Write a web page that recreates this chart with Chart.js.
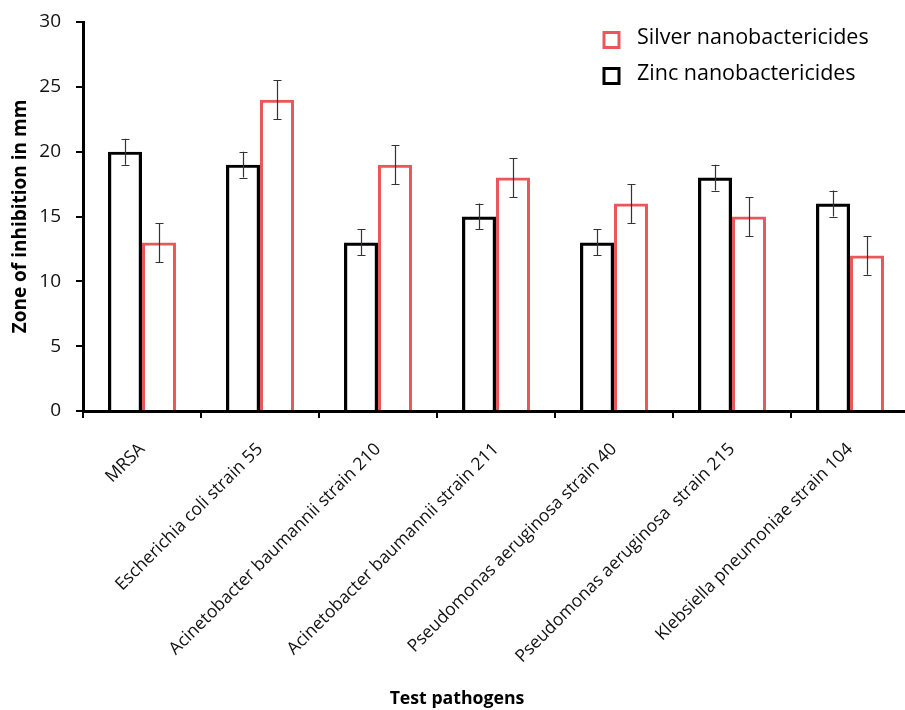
<!DOCTYPE html>
<html>
<head>
<meta charset="utf-8">
<script src="https://cdn.jsdelivr.net/npm/chart.js@4/dist/chart.umd.min.js"></script>
<style>
  html, body { margin: 0; padding: 0; background: #fff; overflow: hidden; }
  #wrap { width: 910px; height: 710px; }
</style>
</head>
<body>
<div id="wrap"><canvas id="c" width="910" height="710"></canvas></div>
<script>
// Test pathogens on the x axis
const pathogens = [
  'MRSA',
  'Escherichia coli strain 55',
  'Acinetobacter baumannii strain 210',
  'Acinetobacter baumannii strain 211',
  'Pseudomonas aeruginosa strain 40',
  'Pseudomonas aeruginosa  strain 215',
  'Klebsiella pneumoniae strain 104'
];
// Zone of inhibition (mm)
const zincValues   = [20, 19, 13, 15, 13, 18, 16];
const silverValues = [13, 24, 19, 18, 16, 15, 12];
// Error bar half-lengths (mm)
const zincErrors   = [1, 1, 1, 1, 1, 1, 1];
const silverErrors = [1.5, 1.5, 1.5, 1.5, 1.5, 1.5, 1.5];
// Y axis ticks
const yTicks = [0, 5, 10, 15, 20, 25, 30];

const FONT = "'Open Sans', 'DejaVu Sans', sans-serif";
const RED = '#e8585a';

// Draws the error bars on top of every bar
const errorBars = {
  id: 'errorBars',
  afterDatasetsDraw(chart) {
    const ctx = chart.ctx;
    const y = chart.scales.y;
    ctx.save();
    ctx.strokeStyle = '#333';
    ctx.lineWidth = 1.2;
    chart.data.datasets.forEach((ds, di) => {
      const meta = chart.getDatasetMeta(di);
      meta.data.forEach((bar, i) => {
        const v = ds.data[i], e = ds.errors[i];
        const top = y.getPixelForValue(v + e);
        const bot = y.getPixelForValue(v - e);
        const x = Math.round(bar.x) + 0.5;
        ctx.beginPath();
        ctx.moveTo(x, top); ctx.lineTo(x, bot);
        ctx.moveTo(x - 4, Math.round(top) + 0.5); ctx.lineTo(x + 4, Math.round(top) + 0.5);
        ctx.moveTo(x - 4, Math.round(bot) + 0.5); ctx.lineTo(x + 4, Math.round(bot) + 0.5);
        ctx.stroke();
      });
    });
    ctx.restore();
  }
};

// Legend (silver listed first) and the x axis title
const decorations = {
  id: 'decorations',
  afterDraw(chart) {
    const ctx = chart.ctx;
    ctx.save();
    const items = [chart.data.datasets[1], chart.data.datasets[0]];
    ctx.font = '21.5px ' + FONT;
    ctx.textBaseline = 'middle';
    ctx.textAlign = 'left';
    items.forEach((ds, k) => {
      const cy = 40 + k * 36;
      ctx.strokeStyle = ds.borderColor;
      ctx.lineWidth = 3;
      ctx.strokeRect(604, cy - 7.5, 15, 15);
      ctx.fillStyle = '#000';
      ctx.fillText(ds.label, 637, cy - 2);
    });
    ctx.font = 'bold 17.7px ' + FONT;
    ctx.textAlign = 'center';
    ctx.fillText('Test pathogens', 457, 699);
    ctx.restore();
  }
};

new Chart(document.getElementById('c'), {
  type: 'bar',
  data: {
    labels: pathogens,
    datasets: [
      {
        label: 'Zinc nanobactericides',
        data: zincValues,
        errors: zincErrors,
        backgroundColor: 'rgba(255,255,255,0)',
        borderColor: '#000',
        borderWidth: 3.2,
        borderSkipped: 'start'
      },
      {
        label: 'Silver nanobactericides',
        data: silverValues,
        errors: silverErrors,
        backgroundColor: 'rgba(255,255,255,0)',
        borderColor: RED,
        borderWidth: 3,
        borderSkipped: 'start'
      }
    ]
  },
  options: {
    responsive: false,
    animation: false,
    events: [],
    layout: { padding: { top: 22, right: 1, left: 0, bottom: 0 } },
    datasets: { bar: { categoryPercentage: 0.576, barPercentage: 1 } },
    plugins: {
      legend: { display: false },
      tooltip: { enabled: false }
    },
    scales: {
      x: {
        grid: { offset: true, drawOnChartArea: false, color: '#000', lineWidth: 2, tickLength: 7 },
        border: { color: '#000', width: 3 },
        ticks: {
          autoSkip: false, maxRotation: 45, minRotation: 45, padding: 21,
          color: '#111', font: { family: FONT, size: 17.5 }
        },
        afterFit(scale) { scale.height = 299; scale.paddingLeft = 0; scale.paddingRight = 0; }
      },
      y: {
        min: 0, max: 30,
        afterBuildTicks(scale) { scale.ticks = yTicks.map(v => ({ value: v })); },
        grid: { drawOnChartArea: false, color: '#000', lineWidth: 2, tickLength: 7 },
        border: { color: '#000', width: 3 },
        ticks: { padding: 15, color: '#111', font: { family: FONT, size: 19 } },
        title: {
          display: true, text: 'Zone of inhibition in mm', color: '#000',
          font: { family: FONT, size: 19, weight: 'bold' }, padding: { top: 9, bottom: 0 }
        },
        afterFit(scale) { scale.width = 83; scale.paddingTop = 0; scale.paddingBottom = 0; }
      }
    }
  },
  plugins: [errorBars, decorations]
});
</script>
</body>
</html>
